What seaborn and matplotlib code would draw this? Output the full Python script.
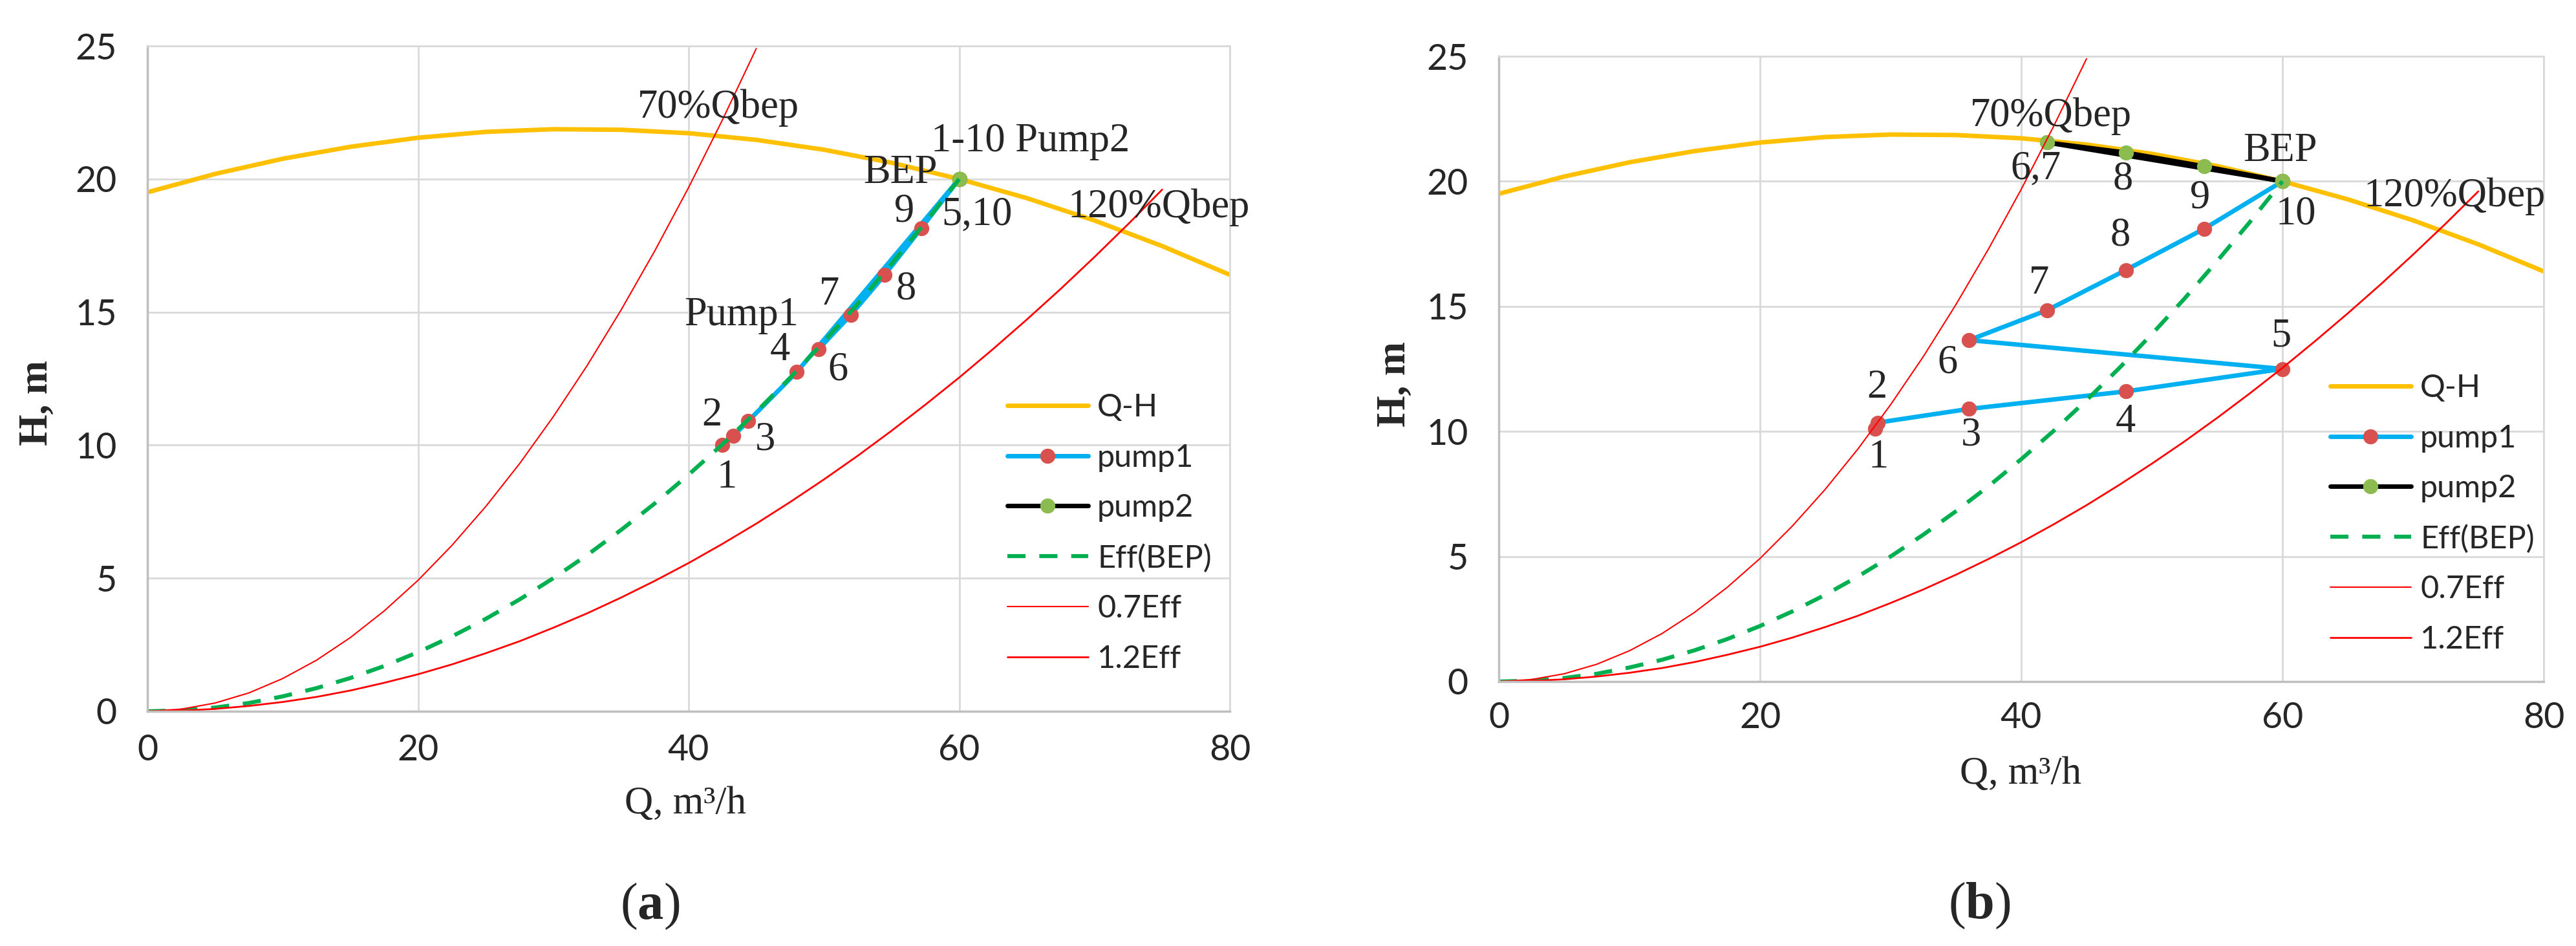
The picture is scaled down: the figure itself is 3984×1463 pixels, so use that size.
import matplotlib
matplotlib.use('Agg')
import matplotlib.pyplot as plt
import seaborn as sns

# Pump Q-H curve (same in both panels).
q_qh = [0, 5, 10, 15, 20, 25, 30, 35, 40, 45, 50, 55, 60, 65, 70, 75, 80]
h_qh = [19.5, 20.19, 20.76, 21.21, 21.55, 21.77, 21.87, 21.85, 21.72, 21.47, 21.1, 20.61, 20.0, 19.28, 18.44, 17.48, 16.4]

# System curve through the BEP (dashed green).
q_eff = [0, 2.5, 5, 7.5, 10, 12.5, 15, 17.5, 20, 22.5, 25, 27.5, 30, 32.5, 35, 37.5, 40,
         42.5, 45, 47.5, 50, 52.5, 55, 57.5, 60]
h_eff = [0, 0.03, 0.14, 0.31, 0.56, 0.87, 1.25, 1.7, 2.22, 2.81, 3.47, 4.2, 5.0, 5.87, 6.81, 7.81, 8.89,
         10.03, 11.25, 12.53, 13.89, 15.31, 16.81, 18.37, 20.0]

# 70% and 120% system curves (thin red).
q_07 = [0, 2.5, 5, 7.5, 10, 12.5, 15, 17.5, 20, 22.5, 25, 27.5, 30, 32.5, 35, 37.5, 40, 42.5, 45]
h_07 = [0, 0.08, 0.31, 0.69, 1.23, 1.92, 2.77, 3.77, 4.92, 6.23, 7.69, 9.3, 11.07, 12.99, 15.07,
        17.3, 19.68, 22.22, 24.9]
q_12 = [0, 2.5, 5, 7.5, 10, 12.5, 15, 17.5, 20, 22.5, 25, 27.5, 30, 32.5, 35, 37.5, 40, 42.5, 45,
        47.5, 50, 52.5, 55, 57.5, 60, 62.5, 65, 67.5, 70, 72.5, 75]
h_12 = [0, 0.02, 0.09, 0.2, 0.35, 0.54, 0.78, 1.07, 1.39, 1.76, 2.18, 2.63, 3.14, 3.68, 4.27, 4.9,
        5.57, 6.29, 7.05, 7.86, 8.71, 9.6, 10.54, 11.52, 12.54, 13.61, 14.72, 15.87, 17.07, 18.31, 19.6]

# Panel (a): operating points 1..10
qa_p1 = [42.5, 43.3, 44.4, 48.0, 60.0, 49.6, 52.0, 54.5, 57.2, 60.0]
ha_p1 = [10.0, 10.35, 10.9, 12.75, 20.0, 13.6, 14.9, 16.4, 18.15, 20.0]
qa_p2 = [60, 60, 60, 60, 60, 60, 60, 60, 60, 60]
ha_p2 = [20.0, 20.0, 20.0, 20.0, 20.0, 20.0, 20.0, 20.0, 20.0, 20.0]

# Panel (b): operating points 1..10
qb_p1 = [28.8, 29.0, 36.0, 48.0, 60.0, 36.0, 42.0, 48.0, 54.0, 60.0]
hb_p1 = [10.1, 10.35, 10.9, 11.6, 12.5, 13.65, 14.85, 16.45, 18.1, 20.0]
qb_p2 = [60, 60, 60, 60, 60, 42, 42, 48, 54, 60]
hb_p2 = [20.0, 20.0, 20.0, 20.0, 20.0, 21.55, 21.55, 21.15, 20.6, 20.0]

x_ticks = [0, 20, 40, 60, 80]
y_ticks = [0, 5, 10, 15, 20, 25]

# Text labels placed on the charts (text, Q, H of baseline-left).
notes_a = [('70%Qbep', 36.2, 22.3), ('1-10 Pump2', 57.9, 21.04), ('BEP', 52.9, 19.85),
           ('9', 55.2, 18.4), ('5,10', 58.7, 18.27), ('120%Qbep', 68.05, 18.56),
           ('8', 55.3, 15.5), ('7', 49.65, 15.28), ('Pump1', 39.7, 14.5), ('4', 46.0, 13.2),
           ('6', 50.3, 12.45), ('2', 40.95, 10.75), ('3', 44.9, 9.83), ('1', 42.1, 8.4)]
notes_b = [('70%Qbep', 36.1, 22.2), ('6,7', 39.2, 20.1), ('8', 47.0, 19.7), ('9', 52.9, 18.95),
           ('BEP', 57.0, 20.8), ('10', 59.5, 18.3), ('120%Qbep', 66.2, 19.0), ('8', 46.8, 17.45),
           ('7', 40.6, 15.5), ('6', 33.6, 12.35), ('5', 59.1, 13.4), ('4', 47.2, 9.97),
           ('3', 35.4, 9.45), ('2', 28.2, 11.35), ('1', 28.3, 8.55)]

sns.set_theme(style='white')
plt.rcParams['font.family'] = ['Lato', 'DejaVu Sans']
plt.rcParams['mathtext.fontset'] = 'custom'
plt.rcParams['mathtext.rm'] = 'Liberation Serif'
plt.rcParams['mathtext.bf'] = 'Liberation Serif:bold'

W, H = 3984, 1463
SERIF = 'Liberation Serif'
fig = plt.figure(figsize=(W / 100, H / 100), dpi=100)


def px_box(x0, y0, x1, y1):
    return [x0 / W, 1 - y1 / H, (x1 - x0) / W, (y1 - y0) / H]


def draw_panel(ax, q_p1, h_p1, q_p2, h_p2, notes, xpad, leg_xy):
    sns.lineplot(x=q_qh, y=h_qh, ax=ax, color='#FFC000', lw=5, label='Q-H', sort=False, estimator=None)
    sns.lineplot(x=q_p1, y=h_p1, ax=ax, color='#00B0F0', lw=5, marker='o', markersize=16,
                 mfc='#D9514E', mec='#D9514E', label='pump1', sort=False, estimator=None)
    sns.lineplot(x=q_p2, y=h_p2, ax=ax, color='black', lw=5, marker='o', markersize=16,
                 mfc='#8CBB4F', mec='#8CBB4F', label='pump2', sort=False, estimator=None)
    sns.lineplot(x=q_eff, y=h_eff, ax=ax, color='#00B050', lw=4.5, dashes=False, label='Eff(BEP)',
                 sort=False, estimator=None, linestyle=(0, (4.5, 3.4)))
    sns.lineplot(x=q_07, y=h_07, ax=ax, color='#FF0000', lw=1.5, label='0.7Eff', sort=False, estimator=None)
    sns.lineplot(x=q_12, y=h_12, ax=ax, color='#FF0000', lw=2, label='1.2Eff', sort=False, estimator=None)

    ax.set_xlim(0, 80)
    ax.set_ylim(0, 25)
    ax.set_xticks(x_ticks)
    ax.set_yticks(y_ticks)
    ax.set_xlabel('')
    ax.set_ylabel('')
    ax.grid(True, color='#D9D9D9', lw=2)
    ax.set_axisbelow(True)
    ax.tick_params(axis='both', length=0, labelsize=40)
    ax.tick_params(axis='x', pad=xpad)
    ax.tick_params(axis='y', pad=34)
    for side in ['left', 'bottom']:
        ax.spines[side].set_color('#BFBFBF')
        ax.spines[side].set_linewidth(2.5)
    for side in ['top', 'right']:
        ax.spines[side].set_color('#D9D9D9')
        ax.spines[side].set_linewidth(2)

    for s, q, h in notes:
        ax.text(q, h, s, fontsize=45, family=SERIF, ha='left', va='baseline', zorder=10)

    handles, labels = ax.get_legend_handles_labels()
    ax.legend(handles, labels, loc='upper left',
              bbox_to_anchor=(leg_xy[0] / W, 1 - leg_xy[1] / H), bbox_transform=fig.transFigure,
              frameon=False, fontsize=35, handlelength=2.57, handletextpad=0.29,
              labelspacing=0.69, borderpad=0, borderaxespad=0, numpoints=1)


ax_a = fig.add_axes(px_box(228, 71, 1902, 1100))
draw_panel(ax_a, qa_p1, ha_p1, qa_p2, ha_p2, notes_a, 25, (1558, 608))
ax_b = fig.add_axes(px_box(2318, 87, 3934, 1054))
draw_panel(ax_b, qb_p1, hb_p1, qb_p2, hb_p2, notes_b, 22, (3604, 578))

# Axis titles and panel letters
fig.text(58 / W, 1 - 623 / H, 'H, m', rotation=90, ha='center', va='center',
         family=SERIF, fontweight='bold', fontsize=45)
fig.text(2158 / W, 1 - 594 / H, 'H, m', rotation=90, ha='center', va='center',
         family=SERIF, fontweight='bold', fontsize=45)
fig.text(1060 / W, 1 - 1258 / H, 'Q, m³/h', ha='center', va='baseline', family=SERIF, fontsize=44)
fig.text(3125 / W, 1 - 1212 / H, 'Q, m³/h', ha='center', va='baseline', family=SERIF, fontsize=44)
fig.text(1005 / W, 1 - 1402 / H, r'($\mathbf{a}$)', ha='center', va='center', family=SERIF, fontsize=58)
fig.text(3061 / W, 1 - 1401 / H, r'($\mathbf{b}$)', ha='center', va='center', family=SERIF, fontsize=58)

fig.savefig('out.png', dpi=100, facecolor='white')
